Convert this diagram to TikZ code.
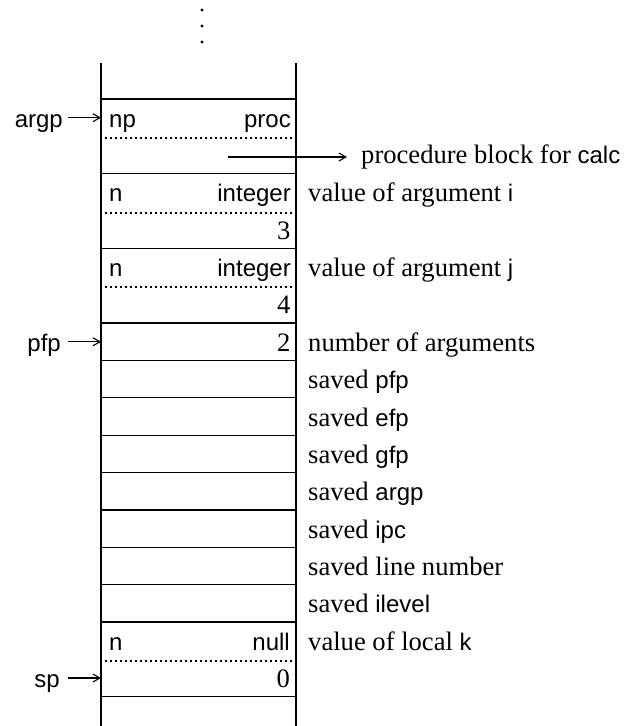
\documentclass[tikz,border=0pt]{standalone}
\usepackage{fontspec}
\setmainfont{Liberation Serif}
\setsansfont{Liberation Sans}
\usetikzlibrary{arrows.meta,calc}
\newcommand{\idf}[1]{{\fontsize{24}{28}\selectfont\sffamily #1}}
\tikzset{
  cellbox/.style={draw, line width=1.3pt, minimum width=195pt, inner sep=0pt, outer sep=0pt, anchor=north},
  dbl/.style={cellbox, minimum height=74.7pt},
  sgl/.style={cellbox, minimum height=37.36pt},
  wall/.style={line width=1.3pt},
  sanstext/.style={inner sep=0pt, font=\fontsize{24}{28}\selectfont\sffamily},
  lft/.style={sanstext, anchor=base west},
  rgt/.style={sanstext, anchor=base east},
  num/.style={inner sep=0pt, anchor=base east, font=\fontsize{26.6}{30}\selectfont\rmfamily},
  lbl/.style={inner sep=0pt, anchor=base west, font=\fontsize{26.6}{30}\selectfont\rmfamily},
  ptrlbl/.style={sanstext, anchor=base east},
  dotline/.style={line width=2pt, dash pattern=on 2pt off 3pt},
  ptr/.style={line width=1.1pt, -{Straight Barb[length=7pt,width=8pt]}},
}
\begin{document}
\begin{tikzpicture}[x=1pt,y=-1pt]
\useasboundingbox (0,0) rectangle (624,726);
% ellipsis dots
\fill (202,10) circle (1.7);
\fill (202,26) circle (1.7);
\fill (202,42) circle (1.7);
% open top of the stack
\draw[wall] (101,63) -- (101,99) (296,63) -- (296,99);
% stack cells
\node[dbl] (b1) at (198.5,99) {};
\node[dbl] (b2) at (198.5,173.7) {};
\node[dbl] (b3) at (198.5,248.4) {};
\node[sgl] (c1) at (198.5,323.1) {};
\node[sgl] (c2) at (198.5,360.46) {};
\node[sgl] (c3) at (198.5,397.82) {};
\node[sgl] (c4) at (198.5,435.18) {};
\node[sgl] (c5) at (198.5,472.54) {};
\node[sgl] (c6) at (198.5,509.9) {};
\node[sgl] (c7) at (198.5,547.26) {};
\node[sgl] (c8) at (198.5,584.62) {};
\node[dbl] (b4) at (198.5,622) {};
% open bottom
\draw[wall] (b4.south west) -- ++(0,40) (b4.south east) -- ++(0,40);
% dotted separators
\foreach \b in {b1,b2,b3,b4}{
  \draw[dotline] ($(\b.west)+(3.5,1.5)$) -- ($(\b.east)+(-4,1.5)$);
}
% cell contents
\node[lft] (np) at ($(b1.north west)+(8,28.2)$) {np};
\node[rgt] (proc) at ($(b1.north east)+(-5,28.2)$) {proc};
\node[lft] (n2) at ($(b2.north west)+(8,28.2)$) {n};
\node[rgt] (t2) at ($(b2.north east)+(-5,28.2)$) {integer};
\node[num] (v2) at ($(b2.north east)+(-5.5,65.5)$) {3};
\node[lft] (n3) at ($(b3.north west)+(8,28.2)$) {n};
\node[rgt] (t3) at ($(b3.north east)+(-5,28.2)$) {integer};
\node[num] (v3) at ($(b3.north east)+(-5.5,65.5)$) {4};
\node[num] (v4) at ($(c1.east)+(-5.5,9.5)$) {2};
\node[lft] (n4) at ($(b4.north west)+(8,28.2)$) {n};
\node[rgt] (t4) at ($(b4.north east)+(-6,28.2)$) {null};
\node[num] (v5) at ($(b4.north east)+(-6,65.5)$) {0};
% right-hand descriptions
\node[lbl] (proclbl) at ($(b1.north east)+(65,64)$) {procedure block for \idf{calc}};
\node[lbl] (d2) at ($(b2.north east)+(12,28.2)$) {value of argument \idf{i}};
\node[lbl] (d3) at ($(b3.north east)+(12,28.2)$) {value of argument \idf{j}};
\node[lbl] (d4) at ($(c1.east)+(12,9.5)$) {number of arguments};
\node[lbl] (d5) at ($(c2.east)+(12,9.5)$) {saved \idf{pfp}};
\node[lbl] (d6) at ($(c3.east)+(12,9.5)$) {saved \idf{efp}};
\node[lbl] (d7) at ($(c4.east)+(12,9.5)$) {saved \idf{gfp}};
\node[lbl] (d8) at ($(c5.east)+(12,9.5)$) {saved \idf{argp}};
\node[lbl] (d9) at ($(c6.east)+(12,9.5)$) {saved \idf{ipc}};
\node[lbl] (d10) at ($(c7.east)+(12,9.5)$) {saved line number};
\node[lbl] (d11) at ($(c8.east)+(12,9.5)$) {saved \idf{ilevel}};
\node[lbl] (d12) at ($(b4.north east)+(12,28.2)$) {value of local \idf{k}};
% procedure pointer
\coordinate (procsrc) at ($(b1.north west)+(127,58)$);
\draw[ptr, shorten >=14pt] (procsrc) -- (proclbl.west |- procsrc);
% left-hand pointers
\coordinate (argpw) at ($(b1.north west)+(0,18.7)$);
\node[ptrlbl] (argp) at ($(argpw)+(-38,9.5)$) {argp};
\draw[ptr, shorten <=5pt] (argp.east |- argpw) -- (argpw);
\coordinate (pfpw) at (c1.west);
\node[ptrlbl] (pfp) at ($(pfpw)+(-40,9.5)$) {pfp};
\draw[ptr, shorten <=7pt] (pfp.east |- pfpw) -- (pfpw);
\coordinate (spw) at ($(b4.north west)+(0,56)$);
\node[ptrlbl] (sp) at ($(spw)+(-41,9.5)$) {sp};
\draw[ptr, shorten <=8pt] (sp.east |- spw) -- (spw);
\end{tikzpicture}
\end{document}
